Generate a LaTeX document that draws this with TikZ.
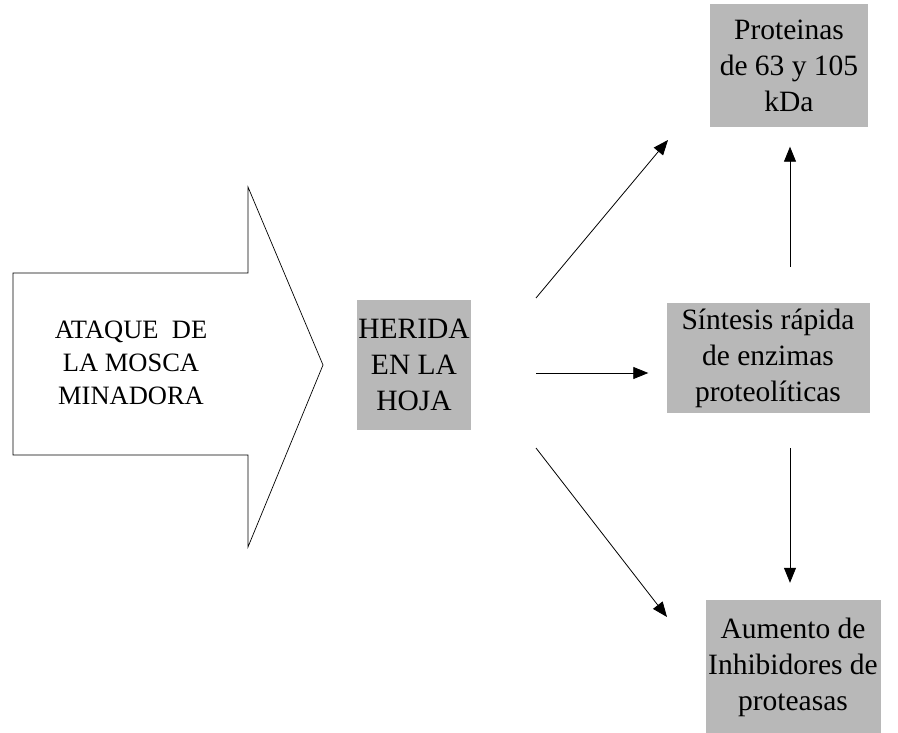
\documentclass[tikz,border=0pt]{standalone}
\usepackage{fontspec}
\setmainfont{Liberation Serif}
\usetikzlibrary{arrows.meta}
\begin{document}
\begin{tikzpicture}[x=1pt,y=-1pt,
    caja/.style={fill=black!28,align=center,inner sep=0pt,
      font=\fontsize{29.5}{36}\selectfont},
    flecha/.style={-{Triangle[length=15pt,width=12pt]},line width=0.8pt}]
  \useasboundingbox (0,0) rectangle (898,733);
  % flecha grande
  \draw[line width=0.7pt,fill=white] (13,273) -- (248,273) -- (248,187)
    -- (323,365) -- (248,547) -- (248,455) -- (13,455) -- cycle;
  \node[align=center,font=\fontsize{26.5}{33}\selectfont] (ataque) at (131,363)
    {ATAQUE~ DE\\LA MOSCA\\MINADORA};
  % cajas
  \node[caja,minimum width=114,minimum height=130] (herida) at (414,365)
    {HERIDA\\EN LA\\HOJA};
  \node[caja,minimum width=158,minimum height=123] (proteinas) at (789,66)
    {Proteinas\\de 63 y 105\\kDa};
  \node[caja,minimum width=203,minimum height=110] (sintesis) at (768,358)
    {Síntesis rápida\\de enzimas\\proteolíticas};
  \node[caja,minimum width=175,minimum height=134] (aumento) at (793,667)
    {Aumento de\\Inhibidores de\\proteasas};
  % flechas
  \coordinate (h1) at (536,298);
  \coordinate (h2) at (536,373);
  \coordinate (h3) at (536,448);
  \coordinate (p1) at (668,140);
  \coordinate (a1) at (667,617);
  \draw[flecha] (h1) -- (p1);
  \draw[flecha] (h2) -- (h2 -| sintesis.west) [shorten >=18pt];
  \draw[flecha] (h3) -- (a1);
  \draw[flecha,shorten <=36pt,shorten >=19pt] (sintesis.north -| 790,0) -- (proteinas.south -| 790,0);
  \draw[flecha,shorten <=35pt,shorten >=17pt] (sintesis.south -| 790,0) -- (aumento.north -| 790,0);
\end{tikzpicture}
\end{document}
